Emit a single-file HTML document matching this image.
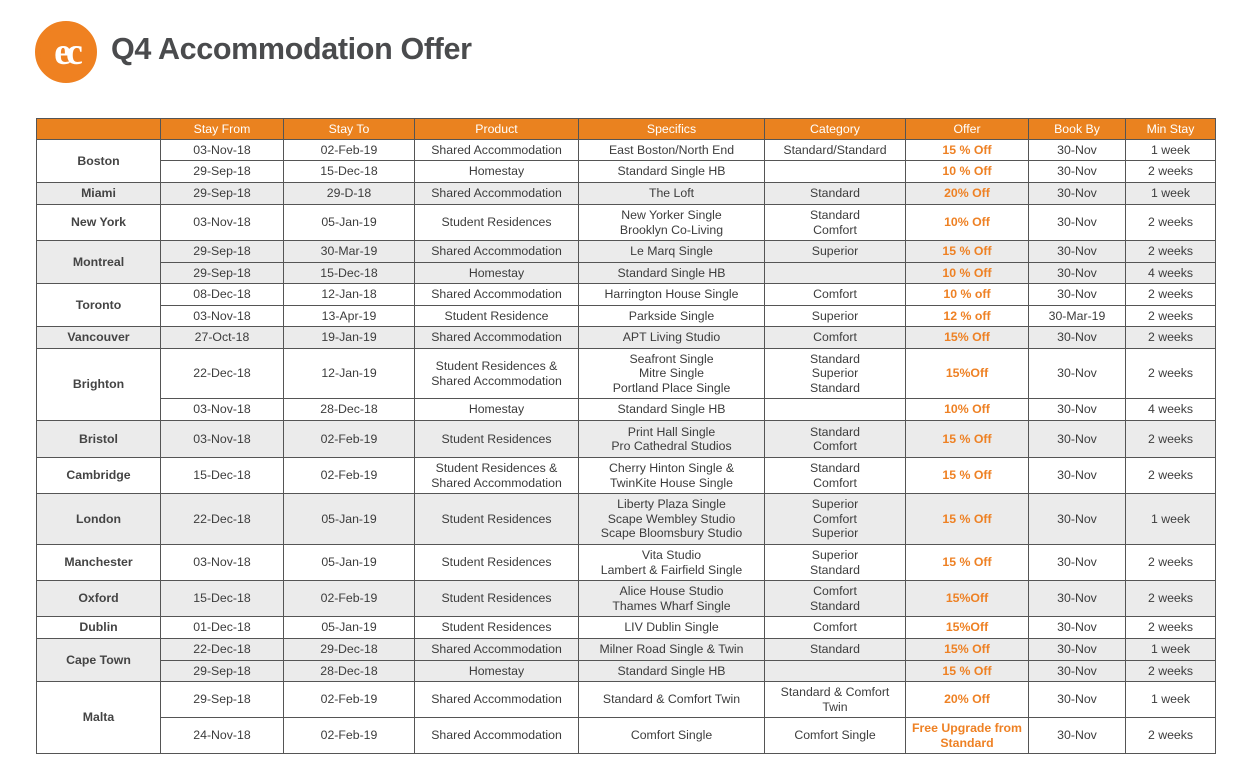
<!DOCTYPE html>
<html><head><meta charset="utf-8"><style>
body{margin:0;background:#fff;width:1256px;height:779px;position:relative;overflow:hidden;font-family:"Liberation Sans",sans-serif;}
.logo{position:absolute;left:35px;top:21px;width:52px;height:52px;border:5px solid #ef8121;border-radius:50%;background:#ef8121;}
.logo span{position:absolute;left:0;right:0;top:4px;text-align:center;color:#fff;font-size:38px;font-weight:bold;letter-spacing:-5px;font-family:"Liberation Serif",serif;}
.title{position:absolute;left:111px;top:32px;font-size:30.5px;font-weight:bold;color:#4a4b4d;letter-spacing:-0.35px;}
table{position:absolute;left:36px;top:118px;border-collapse:collapse;table-layout:fixed;width:1179px;font-size:12.3px;color:#3c3c3c;}
td,th{border:1px solid #555;text-align:center;padding:0;line-height:14.5px;overflow:hidden;}
th{background:#ea821f;color:#fff;font-weight:normal;height:20px;}
.c{font-weight:bold;color:#444;}
.o{color:#ee8124;font-weight:bold;}
.g td{background:#ebebeb;}
</style></head><body>
<div class="logo"><span>ec</span></div>
<div class="title">Q4 Accommodation Offer</div>
<table>
<colgroup><col style="width:124px"><col style="width:123px"><col style="width:131px"><col style="width:164px"><col style="width:186px"><col style="width:141px"><col style="width:123px"><col style="width:97px"><col style="width:90px"></colgroup>
<tr><th></th><th>Stay From</th><th>Stay To</th><th>Product</th><th>Specifics</th><th>Category</th><th>Offer</th><th>Book By</th><th>Min Stay</th></tr>
<tr style="height:21px"><td class="c" rowspan="2">Boston</td><td>03-Nov-18</td><td>02-Feb-19</td><td>Shared Accommodation</td><td>East Boston/North End</td><td>Standard/Standard</td><td class="o">15 % Off</td><td>30-Nov</td><td>1 week</td></tr>
<tr style="height:22px"><td>29-Sep-18</td><td>15-Dec-18</td><td>Homestay</td><td>Standard Single HB</td><td></td><td class="o">10 % Off</td><td>30-Nov</td><td>2 weeks</td></tr>
<tr class="g" style="height:22px"><td class="c">Miami</td><td>29-Sep-18</td><td>29-D-18</td><td>Shared Accommodation</td><td>The Loft</td><td>Standard</td><td class="o">20% Off</td><td>30-Nov</td><td>1 week</td></tr>
<tr style="height:36px"><td class="c">New York</td><td>03-Nov-18</td><td>05-Jan-19</td><td>Student Residences</td><td>New Yorker Single<br>Brooklyn Co-Living</td><td>Standard<br>Comfort</td><td class="o">10% Off</td><td>30-Nov</td><td>2 weeks</td></tr>
<tr class="g" style="height:22px"><td class="c" rowspan="2">Montreal</td><td>29-Sep-18</td><td>30-Mar-19</td><td>Shared Accommodation</td><td>Le Marq Single</td><td>Superior</td><td class="o">15 % Off</td><td>30-Nov</td><td>2 weeks</td></tr>
<tr class="g" style="height:21px"><td>29-Sep-18</td><td>15-Dec-18</td><td>Homestay</td><td>Standard Single HB</td><td></td><td class="o">10 % Off</td><td>30-Nov</td><td>4 weeks</td></tr>
<tr style="height:22px"><td class="c" rowspan="2">Toronto</td><td>08-Dec-18</td><td>12-Jan-18</td><td>Shared Accommodation</td><td>Harrington House Single</td><td>Comfort</td><td class="o">10 % off</td><td>30-Nov</td><td>2 weeks</td></tr>
<tr style="height:21px"><td>03-Nov-18</td><td>13-Apr-19</td><td>Student Residence</td><td>Parkside Single</td><td>Superior</td><td class="o">12 % off</td><td>30-Mar-19</td><td>2 weeks</td></tr>
<tr class="g" style="height:22px"><td class="c">Vancouver</td><td>27-Oct-18</td><td>19-Jan-19</td><td>Shared Accommodation</td><td>APT Living Studio</td><td>Comfort</td><td class="o">15% Off</td><td>30-Nov</td><td>2 weeks</td></tr>
<tr style="height:50px"><td class="c" rowspan="2">Brighton</td><td>22-Dec-18</td><td>12-Jan-19</td><td>Student Residences &amp;<br>Shared Accommodation</td><td>Seafront Single<br>Mitre Single<br>Portland Place Single</td><td>Standard<br>Superior<br>Standard</td><td class="o">15%Off</td><td>30-Nov</td><td>2 weeks</td></tr>
<tr style="height:22px"><td>03-Nov-18</td><td>28-Dec-18</td><td>Homestay</td><td>Standard Single HB</td><td></td><td class="o">10% Off</td><td>30-Nov</td><td>4 weeks</td></tr>
<tr class="g" style="height:37px"><td class="c">Bristol</td><td>03-Nov-18</td><td>02-Feb-19</td><td>Student Residences</td><td>Print Hall Single<br>Pro Cathedral Studios</td><td>Standard<br>Comfort</td><td class="o">15 % Off</td><td>30-Nov</td><td>2 weeks</td></tr>
<tr style="height:36px"><td class="c">Cambridge</td><td>15-Dec-18</td><td>02-Feb-19</td><td>Student Residences &amp;<br>Shared Accommodation</td><td>Cherry Hinton Single &amp;<br>TwinKite House Single</td><td>Standard<br>Comfort</td><td class="o">15 % Off</td><td>30-Nov</td><td>2 weeks</td></tr>
<tr class="g" style="height:51px"><td class="c">London</td><td>22-Dec-18</td><td>05-Jan-19</td><td>Student Residences</td><td>Liberty Plaza Single<br>Scape Wembley Studio<br>Scape Bloomsbury Studio</td><td>Superior<br>Comfort<br>Superior</td><td class="o">15 % Off</td><td>30-Nov</td><td>1 week</td></tr>
<tr style="height:36px"><td class="c">Manchester</td><td>03-Nov-18</td><td>05-Jan-19</td><td>Student Residences</td><td>Vita Studio<br>Lambert &amp; Fairfield Single</td><td>Superior<br>Standard</td><td class="o">15 % Off</td><td>30-Nov</td><td>2 weeks</td></tr>
<tr class="g" style="height:36px"><td class="c">Oxford</td><td>15-Dec-18</td><td>02-Feb-19</td><td>Student Residences</td><td>Alice House Studio<br>Thames Wharf Single</td><td>Comfort<br>Standard</td><td class="o">15%Off</td><td>30-Nov</td><td>2 weeks</td></tr>
<tr style="height:22px"><td class="c">Dublin</td><td>01-Dec-18</td><td>05-Jan-19</td><td>Student Residences</td><td>LIV Dublin Single</td><td>Comfort</td><td class="o">15%Off</td><td>30-Nov</td><td>2 weeks</td></tr>
<tr class="g" style="height:22px"><td class="c" rowspan="2">Cape Town</td><td>22-Dec-18</td><td>29-Dec-18</td><td>Shared Accommodation</td><td>Milner Road Single &amp; Twin</td><td>Standard</td><td class="o">15% Off</td><td>30-Nov</td><td>1 week</td></tr>
<tr class="g" style="height:21px"><td>29-Sep-18</td><td>28-Dec-18</td><td>Homestay</td><td>Standard Single HB</td><td></td><td class="o">15 % Off</td><td>30-Nov</td><td>2 weeks</td></tr>
<tr style="height:36px"><td class="c" rowspan="2">Malta</td><td>29-Sep-18</td><td>02-Feb-19</td><td>Shared Accommodation</td><td>Standard &amp; Comfort Twin</td><td>Standard &amp; Comfort<br>Twin</td><td class="o">20% Off</td><td>30-Nov</td><td>1 week</td></tr>
<tr style="height:36px"><td>24-Nov-18</td><td>02-Feb-19</td><td>Shared Accommodation</td><td>Comfort Single</td><td>Comfort Single</td><td class="o">Free Upgrade from<br>Standard</td><td>30-Nov</td><td>2 weeks</td></tr>
</table>
</body></html>
